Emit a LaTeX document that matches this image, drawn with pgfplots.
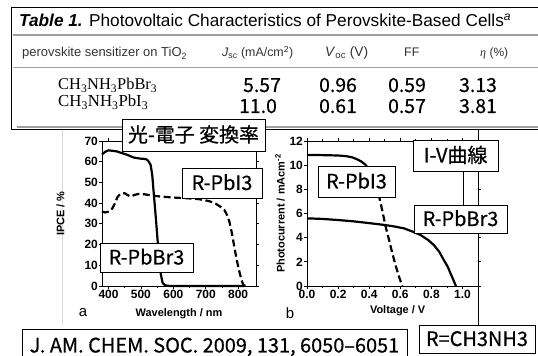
\documentclass[border=0pt]{standalone}
\usepackage{pgfplots}
\pgfplotsset{compat=1.18}
\usepackage{fontspec}
\setmainfont{Liberation Sans}
\newfontfamily\serif{Liberation Serif}
\newfontfamily\cjk[FakeBold=0.5]{Noto Sans CJK JP}
\newcommand\tbox[5]{%
  \draw[fill=white,line width=0.9bp] (#1,#2) rectangle (#3,#4);
  \node[anchor=base,inner sep=0pt,font=\cjk\fontsize{20}{20}\selectfont] at ({(#1+#3)/2},{(#2+#4)/2+7}) {#5};}
\newcommand\fitw[2]{\resizebox{#1bp}{!}{#2}}
\begin{document}
\begin{tikzpicture}
\path[use as bounding box] (0bp,0bp) rectangle (538bp,356bp);
\begin{scope}[x=1bp,y=-1bp,yshift=356bp]
  % table frame
  \draw[line width=0.8bp] (538,7.5) -- (11,7.5) -- (11,129.5) -- (538,129.5);
  \draw[gray!75,line width=1.8bp] (13,35) -- (538,35);
  \draw[gray!75,line width=1.8bp] (13,67.5) -- (538,67.5);
  \draw[gray!75,line width=1.8bp] (17,127) -- (538,127);
  \node[anchor=base west,inner sep=0pt,font=\fontsize{15}{15}\selectfont] at (19,27)
    {\fitw{492}{\textbf{\textit{Table 1.}} Photovoltaic Characteristics of Perovskite-Based Cells\textsuperscript{\textit{a}}}};
  \begin{scope}[every node/.style={anchor=base west,inner sep=0pt,text=black!80,font=\fontsize{12.5}{12.5}\selectfont}]
    \node at (22,57) {\fitw{165}{perovskite sensitizer on TiO\textsubscript{2}}};
    \node at (222,57) {\fitw{71}{\textit{J}\textsubscript{sc} (mA/cm\textsuperscript{2})}};
    \node at (325,57) {\fitw{43}{\textit{V}\textsubscript{oc} (V)}};
    \node at (404,57) {FF};
    \node at (480,57) {\fitw{28}{{\serif\itshape η} (\%)}};
  \end{scope}
  \begin{scope}[every node/.style={anchor=base west,inner sep=0pt,font=\serif\fontsize{16.5}{16.5}\selectfont}]
    \node at (58,90) {\fitw{99}{CH\textsubscript{3}NH\textsubscript{3}PbBr\textsubscript{3}}};
    \node at (58,107) {\fitw{90}{CH\textsubscript{3}NH\textsubscript{3}PbI\textsubscript{3}}};
  \end{scope}
  \begin{scope}[every node/.style={anchor=base,inner sep=0pt,font=\cjk\fontsize{19.5}{19.5}\selectfont}]
    \node at (262,92) {5.57};
    \node at (338,92) {0.96};
    \node at (407,92) {0.59};
    \node at (478,92) {3.13};
    \node at (258,113) {11.0};
    \node at (338,113) {0.61};
    \node at (407,113) {0.57};
    \node at (478,113) {3.81};
  \end{scope}
  % image edge lines
  \draw[gray!30,line width=0.8bp] (62,130) -- (62,325);
  \draw[line width=0.8bp] (478,129) -- (478,325);
  \draw[line width=0.8bp] (463,171) -- (463,205);
  \node[font=\fontsize{15}{15}\selectfont] at (83,313) {a};
  \node[font=\fontsize{15}{15}\selectfont] at (290,313) {b};
\end{scope}

% ---------------- plot a ----------------
\begin{axis}[
  at={(102bp,70bp)}, anchor=south west, scale only axis,
  width=154bp, height=145bp,
  xmin=380, xmax=855, ymin=0, ymax=70,
  xtick={400,500,600,700,800}, minor x tick num=1,
  ytick={0,10,20,30,40,50,60,70},
  tick align=outside, major tick length=3bp, minor tick length=2bp,
  axis line style={line width=0.8bp}, tick style={line width=0.8bp,black},
  /pgf/number format/assume math mode=true,
  ticklabel style={font=\fontsize{12}{12}\selectfont\bfseries, inner sep=1pt},
  xlabel={Wavelength / nm}, ylabel={IPCE / \%},
  label style={font=\fontsize{11}{11}\selectfont\bfseries},
  xlabel style={at={(axis description cs:0.5,-0.19)}, anchor=center},
  ylabel style={at={(axis description cs:-0.27,0.5)}, anchor=center},
  clip=false,
]
\addplot[line width=2.2bp, line join=round] coordinates {
 (380,63.5) (390,64.8) (400,65.5) (425,65) (455,63.5) (478,62) (498,61.5)
 (515,61.3) (522,60.5) (530,58.5) (535,53.5) (540,44) (546,33) (551,23)
 (556,13.4) (561,6) (567,1.5) (575,0.3) (590,0) (820,0)};
\addplot[line width=2.2bp, dash pattern=on 7bp off 3.5bp] coordinates {
 (380,36) (390,35.5) (403,36) (412,37.5) (420,40) (428,43) (437,44.5)
 (450,44.8) (460,43.8) (470,43.2) (480,44) (495,44.5) (510,44.3) (530,43.8)
 (560,43.2) (600,42.7) (640,42.4) (680,41.9) (710,41) (730,39.8) (745,38.3)
 (757,36.8) (765,34.5) (773,31) (780,26) (788,19) (795,13) (802,8) (810,3)
 (816,0.5) (822,0)};
\end{axis}

% ---------------- plot b ----------------
\begin{axis}[
  at={(307bp,70bp)}, anchor=south west, scale only axis,
  width=171bp, height=145bp,
  xmin=0, xmax=1.1, ymin=0, ymax=12,
  xtick={0,0.2,0.4,0.6,0.8,1.0},
  xticklabels={0.0,0.2,0.4,0.6,0.8,1.0},
  minor x tick num=1,
  ytick={0,2,4,6,8,10,12},
  tick align=outside, major tick length=3bp, minor tick length=2bp,
  axis line style={line width=0.8bp}, tick style={line width=0.8bp,black},
  /pgf/number format/assume math mode=true,
  ticklabel style={font=\fontsize{12}{12}\selectfont\bfseries, inner sep=1pt},
  xlabel={Voltage / V}, ylabel={Photocurrent / mAcm\textsuperscript{-2}},
  label style={font=\fontsize{11}{11}\selectfont\bfseries},
  xlabel style={at={(axis description cs:0.53,-0.17)}, anchor=center},
  ylabel style={at={(axis description cs:-0.158,0.5)}, anchor=center},
  clip=false,
]
\addplot[line width=2.2bp, line join=round] coordinates {
 (0,5.6) (0.1,5.55) (0.2,5.46) (0.3,5.35) (0.41,5.19) (0.5,5.05) (0.56,4.93)
 (0.624,4.77) (0.68,4.5) (0.73,4.22) (0.78,3.8) (0.816,3.39) (0.85,2.85)
 (0.88,2.15) (0.905,1.6) (0.923,1.05) (0.94,0.55) (0.955,0.08) (0.96,0)};
\addplot[line width=2.2bp, line join=round] coordinates {
 (0,10.85) (0.1,10.83) (0.2,10.8) (0.25,10.75) (0.29,10.65) (0.32,10.5)
 (0.35,10.3) (0.38,10.0)};
\addplot[line width=2.2bp, dash pattern=on 7bp off 3.5bp] coordinates {
 (0.38,10.0) (0.42,9.0) (0.464,7.4) (0.485,6.2) (0.506,4.9) (0.528,3.8)
 (0.549,2.7) (0.57,1.7) (0.592,0.77) (0.613,0)};
\end{axis}

% ---------------- annotation boxes ----------------
\begin{scope}[x=1bp,y=-1bp,yshift=356bp]
  \tbox{122}{119}{265}{151}{光-電子 変換率}
  \tbox{182}{168}{262}{198}{R-PbI3}
  \tbox{100}{243}{193}{272}{R-PbBr3}
  \tbox{413}{140}{498}{171}{I-V曲線}
  \tbox{318}{166}{395}{197}{R-PbI3}
  \tbox{414}{205}{507}{233}{R-PbBr3}
  \tbox{22}{329}{407}{362}{J. AM. CHEM. SOC. 2009, 131, 6050–6051}
  \tbox{419}{325}{535}{353}{R=CH3NH3}
\end{scope}
\end{tikzpicture}
\end{document}
